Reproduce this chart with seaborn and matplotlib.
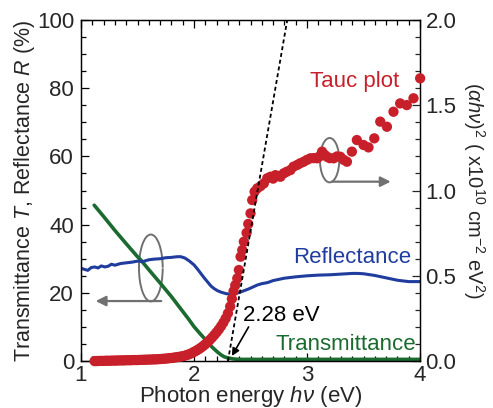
import matplotlib
matplotlib.use("Agg")
import matplotlib.pyplot as plt
import seaborn as sns
import pandas as pd
from matplotlib.ticker import MultipleLocator, FormatStrFormatter
from matplotlib.patches import Arc

# ---------------- data ----------------
trans_x = [1.117, 1.2, 1.3, 1.4, 1.5, 1.53, 1.6, 1.7, 1.8, 1.883, 1.95, 2.0, 2.06, 2.118,
           2.16, 2.206, 2.24, 2.265, 2.30, 2.353, 2.40, 2.5, 3.0, 3.5, 4.0]
trans_y = [45.7, 42.4, 38.3, 34.4, 30.6, 29.6, 26.8, 22.9, 18.9, 15.3, 12.4, 10.1, 7.8, 5.7,
           4.1, 2.7, 1.8, 1.3, 0.9, 0.6, 0.5, 0.5, 0.5, 0.5, 0.5]

refl_x = [1.0, 1.03, 1.06, 1.09, 1.12, 1.15, 1.18, 1.21, 1.24, 1.27, 1.30, 1.35, 1.40, 1.45,
          1.50, 1.55, 1.60, 1.65, 1.70, 1.75, 1.80, 1.85, 1.883, 1.92, 1.96, 2.0, 2.03, 2.06,
          2.09, 2.12, 2.15, 2.18, 2.21, 2.24, 2.28, 2.32, 2.36, 2.40, 2.44, 2.48, 2.52, 2.56,
          2.60, 2.65, 2.70, 2.80, 2.90, 3.0, 3.1, 3.2, 3.3, 3.4, 3.45, 3.5, 3.6, 3.7, 3.8,
          3.9, 4.0]
refl_y = [27.2, 26.9, 26.6, 27.4, 27.6, 27.3, 27.9, 27.6, 27.8, 28.4, 28.1, 28.6, 28.8, 29.0,
          29.3, 29.2, 29.7, 29.9, 30.0, 30.3, 30.4, 30.6, 30.6, 30.2, 29.3, 28.2, 27.0, 25.7,
          24.4, 23.2, 22.0, 21.2, 20.6, 20.2, 19.8, 19.6, 19.7, 20.1, 20.6, 21.1, 21.7, 22.3,
          22.7, 23.0, 23.6, 24.3, 24.7, 25.0, 25.2, 25.3, 25.5, 25.7, 25.7, 25.6, 25.1, 24.4,
          23.7, 23.3, 23.3]

tauc_x = [1.12, 1.14, 1.16, 1.18, 1.20, 1.22, 1.24, 1.26, 1.28, 1.30, 1.32, 1.34, 1.36, 1.38,
          1.40, 1.42, 1.44, 1.46, 1.48, 1.50, 1.52, 1.54, 1.56, 1.58, 1.60, 1.62, 1.64, 1.66,
          1.68, 1.70, 1.72, 1.74, 1.76, 1.78, 1.80, 1.82, 1.84, 1.86, 1.88, 1.90, 1.92, 1.94,
          1.96, 1.98, 2.00, 2.02, 2.04, 2.06, 2.08, 2.10, 2.12, 2.14, 2.16, 2.18, 2.20, 2.22,
          2.24, 2.26, 2.28, 2.30, 2.32, 2.335, 2.35, 2.365, 2.383, 2.397, 2.412, 2.427, 2.441,
          2.465, 2.48, 2.50, 2.515, 2.536, 2.56, 2.589, 2.618, 2.648, 2.677, 2.70, 2.72, 2.745,
          2.765, 2.794, 2.82, 2.853, 2.88, 2.913, 2.94, 2.971, 3.00, 3.03, 3.06, 3.089, 3.11,
          3.133, 3.155, 3.177, 3.20, 3.236, 3.265, 3.295, 3.325, 3.353, 3.397, 3.441, 3.50,
          3.544, 3.595, 3.648, 3.707, 3.765, 3.824, 3.883, 3.942, 4.001]
tauc_y = [0.000, 0.000, 0.001, 0.001, 0.001, 0.002, 0.002, 0.002, 0.003, 0.003, 0.003, 0.004,
          0.004, 0.004, 0.005, 0.005, 0.005, 0.006, 0.006, 0.006, 0.007, 0.007, 0.008, 0.008,
          0.009, 0.009, 0.010, 0.010, 0.011, 0.012, 0.013, 0.014, 0.015, 0.017, 0.018, 0.020,
          0.022, 0.024, 0.026, 0.029, 0.032, 0.036, 0.041, 0.047, 0.054, 0.061, 0.069, 0.078,
          0.088, 0.099, 0.111, 0.124, 0.138, 0.153, 0.169, 0.186, 0.205, 0.226, 0.250, 0.280,
          0.320, 0.365, 0.410, 0.445, 0.485, 0.534, 0.612, 0.651, 0.700, 0.752, 0.804, 0.866,
          0.944, 0.993, 1.013, 1.026, 1.042, 1.072, 1.081, 1.070, 1.090, 1.085, 1.081, 1.101,
          1.110, 1.120, 1.140, 1.150, 1.160, 1.169, 1.180, 1.189, 1.190, 1.189, 1.200, 1.228,
          1.210, 1.198, 1.190, 1.189, 1.200, 1.198, 1.180, 1.169, 1.228, 1.296, 1.267, 1.253,
          1.306, 1.404, 1.374, 1.462, 1.511, 1.501, 1.541, 1.658]

fit_x = [2.30, 2.825]
fit_y = [0.0, 2.0]

x_ticks = [1, 2, 3, 4]
left_ticks = [0, 20, 40, 60, 80, 100]
right_ticks = [0.0, 0.5, 1.0, 1.5, 2.0]

# ---------------- style ----------------
sns.set_style("ticks")
plt.rcParams["font.family"] = ["Liberation Sans", "DejaVu Sans"]
plt.rcParams["mathtext.fontset"] = "custom"
plt.rcParams["mathtext.rm"] = "Liberation Sans"
plt.rcParams["mathtext.it"] = "Liberation Sans:italic"
plt.rcParams["mathtext.bf"] = "Liberation Sans:bold"

RED = "#c8202a"
BLUE = "#1f3c9e"
GREEN = "#1b6b30"
GRAY = "#707070"

fig = plt.figure(figsize=(4.93, 4.08), dpi=100)
ax = fig.add_axes([0.1643, 0.115, 0.852 - 0.1643, 0.951 - 0.115])
ax2 = ax.twinx()

df_t = pd.DataFrame({"x": trans_x, "y": trans_y})
df_r = pd.DataFrame({"x": refl_x, "y": refl_y})
df_tauc = pd.DataFrame({"x": tauc_x, "y": tauc_y})

sns.lineplot(data=df_t, x="x", y="y", ax=ax, color=GREEN, lw=2.6, sort=False)
sns.lineplot(data=df_r, x="x", y="y", ax=ax, color=BLUE, lw=2.2, sort=False)

sns.scatterplot(data=df_tauc, x="x", y="y", ax=ax2, color=RED, s=55,
                edgecolor="none", linewidth=0, clip_on=False, zorder=3)
ax2.plot(fit_x, fit_y, color="black", lw=1.3, ls=(0, (2.2, 1.6)), zorder=4)

# axes limits and ticks
ax.set_xlim(1, 4)
ax.set_ylim(0, 100)
ax2.set_ylim(0, 2.0)
ax.set_xticks(x_ticks)
ax.set_yticks(left_ticks)
ax2.set_yticks(right_ticks)
ax2.yaxis.set_major_formatter(FormatStrFormatter("%.1f"))
ax.xaxis.set_minor_locator(MultipleLocator(0.1))
ax.yaxis.set_minor_locator(MultipleLocator(5))
ax2.yaxis.set_minor_locator(MultipleLocator(0.1))

ax.tick_params(which="both", direction="in", top=True, right=False, labelsize=16,
               color="black", width=0.9)
ax.tick_params(which="major", length=6)
ax.tick_params(which="minor", length=3.5)
ax.tick_params(axis="x", pad=3)
ax.tick_params(axis="y", pad=5)
ax2.tick_params(which="both", direction="in", labelsize=16, width=0.9, pad=4)
ax2.tick_params(which="major", length=6)
ax2.tick_params(which="minor", length=3.5)

for a in (ax, ax2):
    for s in a.spines.values():
        s.set_color("black")
        s.set_linewidth(0.9)

ax.set_xlabel(r"Photon energy $h\nu$ (eV)", fontsize=16, labelpad=-1.5)
ax.set_ylabel(r"Transmittance $T$, Reflectance $R$ (%)", fontsize=15.5, labelpad=0)
ax2.set_ylabel(r"$(\alpha h\nu)^2$ ( x10$^{10}$ cm$^{-2}$ eV$^2$)", fontsize=14.5,
               rotation=270, labelpad=22)

# annotations
ax.text(3.42, 82, "Tauc plot", color=RED, fontsize=16, ha="center", va="center")
ax.text(3.40, 30.5, "Reflectance", color=BLUE, fontsize=16, ha="center", va="center")
ax.text(3.34, 5.0, "Transmittance", color=GREEN, fontsize=16, ha="center", va="center")
ax.text(2.774, 13.5, "2.28 eV", color="black", fontsize=16, ha="center", va="center")
ax.annotate("", xy=(2.335, 1.5), xytext=(2.483, 10.0),
            arrowprops=dict(arrowstyle="-|>", color="black", lw=1.2,
                            mutation_scale=11, shrinkA=0, shrinkB=0))

# rotation symbols with arrows
ax.add_patch(Arc((1.618, 27.3), 0.21, 19.6, theta1=40, theta2=320,
                 color=GRAY, lw=1.4))
ax.annotate("", xy=(1.13, 17.6), xytext=(1.71, 17.6),
            arrowprops=dict(arrowstyle="-|>", color=GRAY, lw=1.6,
                            mutation_scale=15, shrinkA=0, shrinkB=0))
ax.add_patch(Arc((3.20, 58.9), 0.17, 13.0, theta1=-125, theta2=125,
                 color=GRAY, lw=1.4))
ax.annotate("", xy=(3.74, 52.6), xytext=(3.22, 52.6),
            arrowprops=dict(arrowstyle="-|>", color=GRAY, lw=1.6,
                            mutation_scale=15, shrinkA=0, shrinkB=0))

ax.set_zorder(1)
ax2.set_zorder(2)
ax.patch.set_visible(True)
ax2.patch.set_visible(False)

fig.savefig("out.png", dpi=100)
